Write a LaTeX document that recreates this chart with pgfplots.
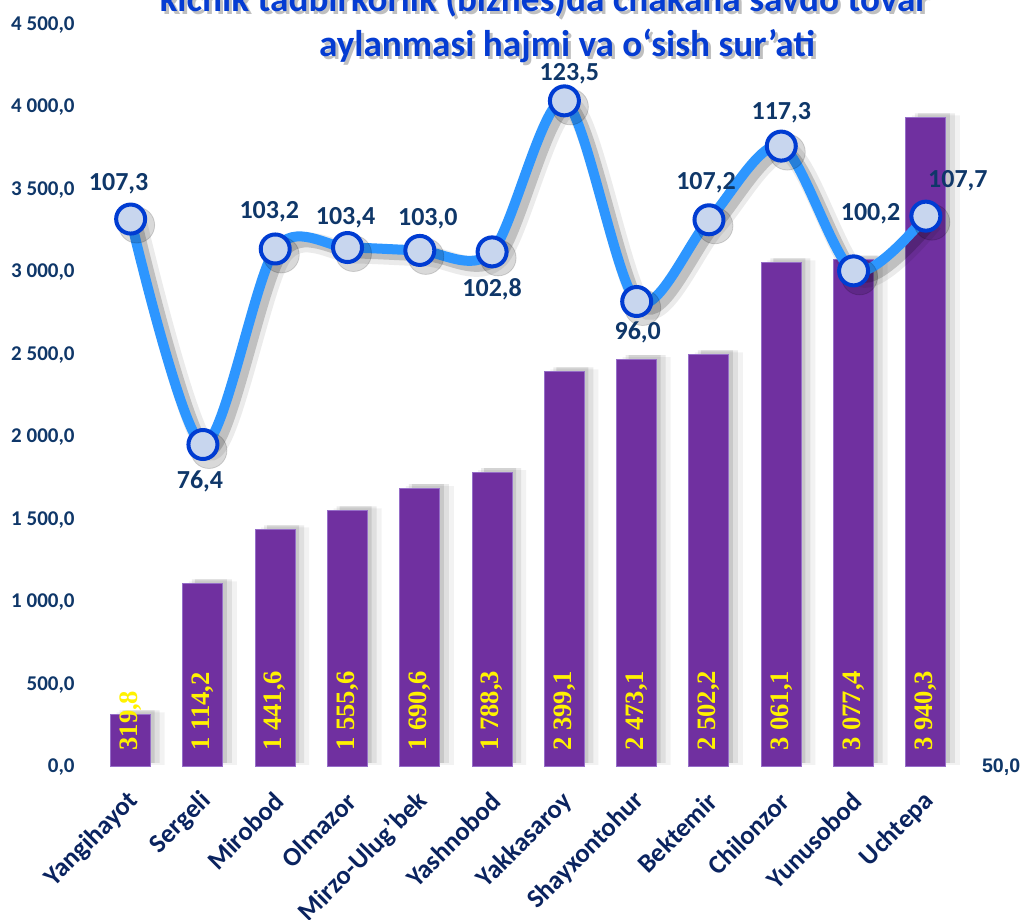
\documentclass[border=0pt]{standalone}
\usepackage{pgfplots}
\pgfplotsset{compat=1.18}
\usepackage{pgfplotstable}
\usepackage{fontspec}
\setmainfont{Carlito}
\newfontfamily\serifb{Liberation Serif}
\newfontfamily\arialf{Liberation Sans}
\definecolor{barpurple}{RGB}{112,48,160}
\definecolor{baredge}{RGB}{150,110,200}
\definecolor{lineblue}{RGB}{45,150,255}
\definecolor{markedge}{RGB}{0,60,210}
\definecolor{markfill}{RGB}{200,214,238}
\definecolor{navy}{RGB}{15,55,105}
\definecolor{catnavy}{RGB}{10,35,95}
\definecolor{titleblue}{RGB}{5,60,210}

\pgfplotstableread{
x v r lx ly
0 319.8 107.3 -6 17.5
1 1114.2 76.4 -1.5 -18.5
2 1441.6 103.2 -3 18.5
3 1555.6 103.4 -1 15
4 1690.6 103.0 4 16
5 1788.3 102.8 0 -18.5
6 2399.1 123.5 2.5 13.5
7 2473.1 96.0 0.5 -15.5
8 2502.2 107.2 -1.5 18.5
9 3061.1 117.3 0 16.5
10 3077.4 100.2 8.5 28.5
11 3940.3 107.7 16 17.5
}\data

\begin{document}
\begin{tikzpicture}[x=1pt,y=1pt]
\useasboundingbox (0,0) rectangle (511,460);
\fill[white] (0,0) rectangle (511,460);
% title with shadow
\node[font=\bfseries\fontsize{18.6}{22}\selectfont, text=black, opacity=0.25, anchor=base] at (273.5,452.5) {kichik tadbirkorlik (biznes)da chakana savdo tovar};
\node[font=\bfseries\fontsize{18.6}{22}\selectfont, text=titleblue, anchor=base] at (272,454) {kichik tadbirkorlik (biznes)da chakana savdo tovar};
\node[font=\bfseries\fontsize{18.6}{22}\selectfont, text=black, opacity=0.25, anchor=base] at (285,430) {aylanmasi hajmi va o‘sish sur’ati};
\node[font=\bfseries\fontsize{18.6}{22}\selectfont, text=titleblue, anchor=base] at (283.5,431.5) {aylanmasi hajmi va o‘sish sur’ati};

\begin{axis}[
  at={(47.25pt,76.5pt)}, anchor=south west,
  width=433.75pt, height=371pt, scale only axis,
  xmin=-0.5, xmax=11.5, ymin=0, ymax=4500,
  axis line style={draw=none}, major tick length=0pt, tick style={draw=none},
  ytick={0,500,...,4500},
  xtick={0,...,11},
  xticklabels={Yangihayot,Sergeli,Mirobod,Olmazor,Mirzo-Ulug'bek,Yashnobod,Yakkasaroy,Shayxontohur,Bektemir,Chilonzor,Yunusobod,Uchtepa},
  yticklabel style={font=\bfseries\fontsize{10.5}{12}\selectfont, text=navy, inner sep=0pt, anchor=east, xshift=-9.75pt,
    /pgf/number format/.cd, fixed, fixed zerofill, precision=1, use comma, 1000 sep={\ }, assume math mode=true},
  xticklabel style={font=\bfseries\fontsize{13.2}{15}\selectfont, text=catnavy, inner sep=0pt, xshift=2pt, yshift=-15pt, rotate=45, anchor=east},
  clip=false,
]
% bar shadows
\addplot[ybar, bar width=24pt, bar shift=5pt, fill=black, draw=none, opacity=0.05, yshift=1pt] table[x=x,y=v]\data;
\addplot[ybar, bar width=20pt, bar shift=4.5pt, fill=black, draw=none, opacity=0.08, yshift=2pt] table[x=x,y=v]\data;
\addplot[ybar, bar width=16pt, bar shift=4pt, fill=black, draw=none, opacity=0.10, yshift=2pt] table[x=x,y=v]\data;
% bars
\addplot[ybar, bar width=20pt, bar shift=0pt, fill=barpurple, draw=baredge, line width=0.5pt] table[x=x,y=v]\data;
% bar labels
\addplot[draw=none, mark=none, nodes near coords, point meta=explicit,
  /pgf/number format/.cd, fixed, fixed zerofill, precision=1, use comma, 1000 sep={\ }, assume math mode=true,
  /pgfplots/.cd,
  every node near coord/.append style={rotate=90, anchor=west, inner xsep=8pt, inner ysep=0pt,
    font=\serifb\bfseries\fontsize{13.3}{13}\selectfont, text=yellow}]
  table[x=x, y expr=0, meta=v]\data;
\node[anchor=west, font=\arialf\bfseries\fontsize{9.8}{12}\selectfont, text=navy, xshift=6.5pt] at (rel axis cs:1,0) {50,0};
\end{axis}

\begin{axis}[
  at={(47.25pt,76.5pt)}, anchor=south west,
  width=433.75pt, height=371pt, scale only axis,
  xmin=-0.5, xmax=11.5, ymin=32.2, ymax=133.9,
  hide axis, clip=false,
  /pgf/number format/.cd, fixed, fixed zerofill, precision=1, use comma, assume math mode=true,
  /pgfplots/.cd,
]
% line shadow
\addplot[smooth, black, opacity=0.08, line width=10pt, xshift=3.5pt, yshift=-3pt] table[x=x,y=r]\data;
\addplot[smooth, black, opacity=0.18, line width=5pt, xshift=3.5pt, yshift=-3pt] table[x=x,y=r]\data;
% line
\addplot[smooth, lineblue, line width=5pt] table[x=x,y=r]\data;
% marker shadows
\addplot[only marks, mark=*, mark size=9pt, mark options={fill=black, draw=none, opacity=0.15}, xshift=3pt, yshift=-3pt] table[x=x,y=r]\data;
% markers with labels
\addplot[only marks, mark=*, mark size=7.25pt, mark options={draw=markedge, line width=2pt, fill=markfill},
  nodes near coords, point meta=explicit,
  visualization depends on={\thisrow{lx} \as \lx},
  visualization depends on={\thisrow{ly} \as \ly},
  every node near coord/.append style={anchor=center, xshift=\lx*1pt, yshift=\ly*1pt,
    font=\bfseries\fontsize{13}{14}\selectfont, text=navy}]
  table[x=x, y=r, meta=r]\data;
\end{axis}
\end{tikzpicture}
\end{document}
